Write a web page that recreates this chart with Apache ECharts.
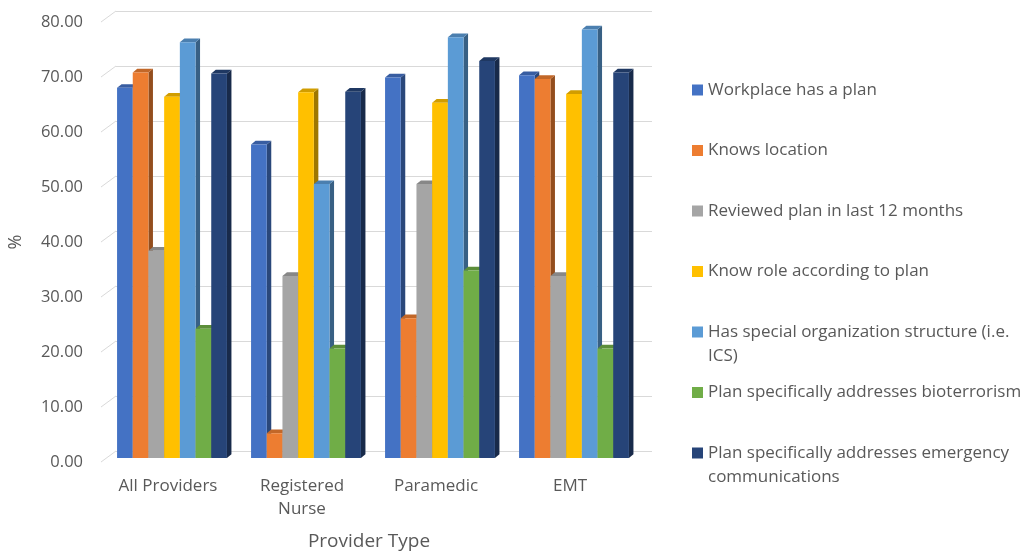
<!DOCTYPE html>
<html>
<head>
<meta charset="utf-8">
<title>Emergency plan awareness by provider type</title>
<script src="https://cdn.jsdelivr.net/npm/echarts@6/dist/echarts.min.js"></script>
<style>
  html, body { margin: 0; padding: 0; background: #ffffff; }
  #chart { width: 1024px; height: 551px; }
</style>
</head>
<body>
<div id="chart"></div>
<script>
// ---- data ----
const categories = ['All Providers', 'Registered Nurse', 'Paramedic', 'EMT'];

const seriesNames = [
  'Workplace has a plan',
  'Knows location',
  'Reviewed plan in last 12 months',
  'Know role according to plan',
  'Has special organization structure (i.e. ICS)',
  'Plan specifically addresses bioterrorism',
  'Plan specifically addresses emergency communications'
];

const workplaceHasPlan   = [67.3, 57.0, 69.2, 69.6];
const knowsLocation      = [70.1,  4.5, 25.4, 68.9];
const reviewedPlan       = [37.7, 33.1, 49.8, 33.1];
const knowRole           = [65.7, 66.5, 64.6, 66.2];
const specialStructure   = [75.6, 49.8, 76.5, 77.9];
const bioterrorism       = [23.5, 19.9, 34.1, 19.9];
const emergencyComms     = [69.9, 66.6, 72.2, 70.1];

const seriesValues = [
  workplaceHasPlan, knowsLocation, reviewedPlan, knowRole,
  specialStructure, bioterrorism, emergencyComms
];

const yTicks = [0, 10, 20, 30, 40, 50, 60, 70, 80];

// ---- style ----
const colors = ['#4472C4', '#ED7D31', '#A5A5A5', '#FFC000', '#5B9BD5', '#70AD47', '#264478'];
const textColor = '#595959';
const gridColor = '#d9d9d9';
const fontFamily = '"Open Sans", "Noto Sans", sans-serif';

// wall depth of the pseudo-3D frame (front edge -> back wall)
const WALL_DX = 15;
const WALL_DY = 11;
// bars sit a little behind the front edge
const BAR_FRONT_DX = 4;
const BAR_FRONT_DY = 4;
// visible thickness of each column
const SIDE_DX = 4.5;
const SIDE_DY = 3.7;
const GROUP_RATIO = 0.82;

function shade(hex, k) {
  const n = parseInt(hex.slice(1), 16);
  const r = Math.round(((n >> 16) & 255) * k);
  const g = Math.round(((n >> 8) & 255) * k);
  const b = Math.round((n & 255) * k);
  return 'rgb(' + r + ',' + g + ',' + b + ')';
}

function columnRenderer(sIdx) {
  const count = seriesNames.length;
  return function (params, api) {
    const cat = api.value(0);
    const val = api.value(1);
    const base = api.coord([cat, 0]);
    const top = api.coord([cat, val]);
    const band = api.size([1, 0])[0];
    const groupW = band * GROUP_RATIO;
    const barW = groupW / count;
    const x0 = base[0] - groupW / 2 + sIdx * barW + BAR_FRONT_DX;
    const x1 = x0 + barW;
    const yb = base[1] - BAR_FRONT_DY;
    const yt = top[1] - BAR_FRONT_DY;
    const c = colors[sIdx];
    return {
      type: 'group',
      children: [
        { type: 'polygon',
          shape: { points: [[x1, yb], [x1 + SIDE_DX, yb - SIDE_DY], [x1 + SIDE_DX, yt - SIDE_DY], [x1, yt]] },
          style: { fill: shade(c, 0.62) } },
        { type: 'polygon',
          shape: { points: [[x0, yt], [x0 + SIDE_DX, yt - SIDE_DY], [x1 + SIDE_DX, yt - SIDE_DY], [x1, yt]] },
          style: { fill: shade(c, 0.82) } },
        { type: 'rect',
          shape: { x: x0, y: yt, width: barW, height: yb - yt },
          style: { fill: c } }
      ]
    };
  };
}

// legend labels, wrapped like the chart's legend box
const legendLabels = [
  'Workplace has a plan',
  'Knows location',
  'Reviewed plan in last 12 months',
  'Know role according to plan',
  'Has special organization structure (i.e.\nICS)',
  'Plan specifically addresses bioterrorism',
  'Plan specifically addresses emergency\ncommunications'
];
const LEGEND_FIRST = 90;
const LEGEND_PITCH = 60.5;
const LEGEND_LH = 24;

const legends = seriesNames.map(function (name, i) {
  const lines = legendLabels[i].split('\n').length;
  // a leading blank line keeps the marker level with the first text line
  const label = lines > 1 ? '\n' + legendLabels[i] : legendLabels[i];
  const block = (2 * lines - 1) * LEGEND_LH;
  return {
    data: [name],
    left: 692,
    top: LEGEND_FIRST + i * LEGEND_PITCH - block / 2,
    orient: 'vertical',
    icon: 'rect',
    itemWidth: 11,
    itemHeight: 11,
    padding: 0,
    selectedMode: true,
    formatter: function () { return label; },
    textStyle: { color: textColor, fontSize: 17, fontFamily: fontFamily, lineHeight: LEGEND_LH }
  };
});

const series = seriesNames.map(function (name, i) {
  return {
    name: name,
    type: 'custom',
    xAxisIndex: 1,
    yAxisIndex: 1,
    itemStyle: { color: colors[i] },
    z: 3,
    z2: i,
    renderItem: columnRenderer(i),
    data: seriesValues[i].map(function (v, c) { return [c, v]; })
  };
});

// slanted side-wall edges joining each value level to the back wall
series.push({
  type: 'custom',
  xAxisIndex: 1,
  yAxisIndex: 1,
  silent: true,
  z: 1,
  renderItem: function (params, api) {
    const p = api.coord([0, api.value(0)]);
    const x = params.coordSys.x;
    return {
      type: 'line',
      shape: { x1: x, y1: p[1], x2: x + WALL_DX, y2: p[1] - WALL_DY },
      style: { stroke: gridColor, lineWidth: 1 }
    };
  },
  data: yTicks.map(function (v) { return [v]; })
});

const option = {
  backgroundColor: '#ffffff',
  animation: false,
  legend: legends,
  grid: [
    // back wall
    { left: 116, right: 372, top: 11, bottom: 100, outerBoundsMode: 'none', containLabel: false },
    // front plane
    { left: 101, right: 387, top: 22, bottom: 89, outerBoundsMode: 'none', containLabel: false }
  ],
  xAxis: [
    { gridIndex: 0, type: 'category', data: categories, show: false },
    {
      gridIndex: 1, type: 'category', data: categories,
      axisLine: { show: false }, axisTick: { show: false },
      axisLabel: {
        color: textColor, fontSize: 17, fontFamily: fontFamily, margin: 13, lineHeight: 23,
        formatter: function (v) { return v === 'Registered Nurse' ? 'Registered\nNurse' : v; }
      },
      name: 'Provider Type', nameLocation: 'middle', nameGap: 70,
      nameTextStyle: { color: textColor, fontSize: 19, fontFamily: fontFamily }
    }
  ],
  yAxis: [
    {
      gridIndex: 0, type: 'value', min: 0, max: 80, interval: 10,
      axisLine: { show: false }, axisTick: { show: false }, axisLabel: { show: false },
      splitLine: { show: true, lineStyle: { color: gridColor, width: 1 } }
    },
    {
      gridIndex: 1, type: 'value', min: 0, max: 80, interval: 10,
      axisLine: { show: false }, axisTick: { show: false },
      splitLine: { show: false },
      axisLabel: {
        color: textColor, fontSize: 16.5, fontFamily: fontFamily, margin: 18,
        padding: [0, 0, 4, 0],
        formatter: function (v) { return v.toFixed(2); }
      },
      name: '%', nameLocation: 'middle', nameRotate: 90, nameGap: 76,
      nameTextStyle: { color: textColor, fontSize: 18, fontFamily: fontFamily }
    }
  ],
  series: series
};

const chart = echarts.init(document.getElementById('chart'), null, { renderer: 'canvas' });
chart.setOption(option);
</script>
</body>
</html>
